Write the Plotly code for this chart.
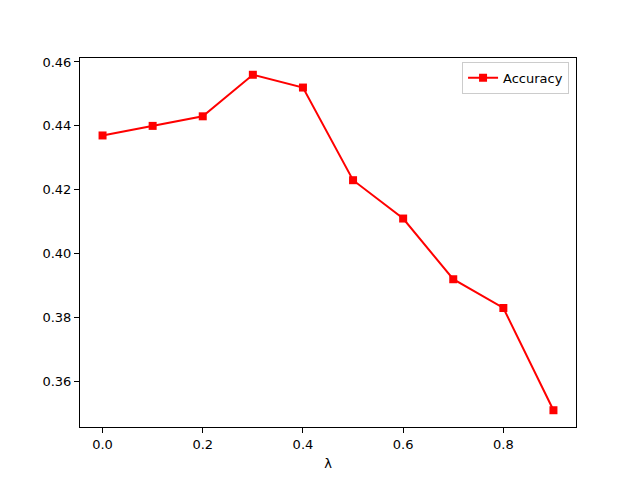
import plotly.graph_objects as go

lam = [0.0, 0.1, 0.2, 0.3, 0.4, 0.5, 0.6, 0.7, 0.8, 0.9]
accuracy = [0.437, 0.440, 0.443, 0.456, 0.452, 0.423, 0.411, 0.392, 0.383, 0.351]
xticks = [0.0, 0.2, 0.4, 0.6, 0.8]
yticks = [0.36, 0.38, 0.40, 0.42, 0.44, 0.46]

fig = go.Figure()
fig.add_trace(go.Scatter(
    x=lam, y=accuracy, mode="lines+markers", name="Accuracy",
    line=dict(color="red", width=2),
    marker=dict(symbol="square", size=8, color="red"),
))

fig.update_layout(
    width=640, height=480,
    margin=dict(l=80, r=64, t=58, b=53),
    paper_bgcolor="white", plot_bgcolor="white",
    font=dict(family="DejaVu Sans", size=13, color="black"),
    showlegend=True,
    legend=dict(x=0.986, y=0.99, xanchor="right", yanchor="top",
                bordercolor="#cccccc", borderwidth=1, bgcolor="rgba(255,255,255,0.8)",
                font=dict(size=13), itemwidth=30, tracegroupgap=0),
    xaxis=dict(range=[-0.045, 0.945], tickvals=xticks, tickformat=".1f",
               showgrid=False, zeroline=False, showline=True, linecolor="black",
               linewidth=1, mirror=True, ticks="outside", ticklen=5, tickcolor="black",
               title=dict(text="λ", standoff=8, font=dict(size=13))),
    yaxis=dict(range=[0.34575, 0.46125], tickvals=yticks, tickformat=".2f",
               showgrid=False, zeroline=False, showline=True, linecolor="black",
               linewidth=1, mirror=True, ticks="outside", ticklen=5, tickcolor="black"),
)

fig.write_html("out.html", config={"displayModeBar": False},
               post_script="document.body.style.margin='0';")
